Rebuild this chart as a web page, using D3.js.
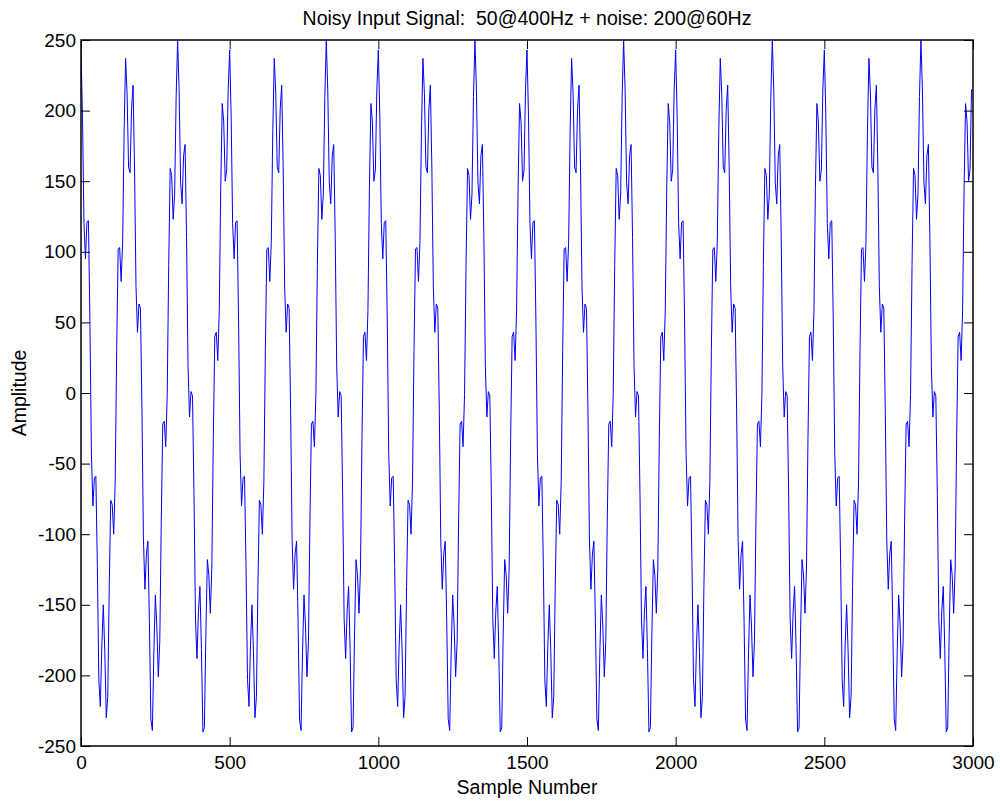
<!DOCTYPE html>
<html>
<head>
<meta charset="utf-8">
<script src="https://cdn.jsdelivr.net/npm/d3@7"></script>
<style>
  html, body { margin: 0; padding: 0; background: #ffffff; overflow: hidden; }
  svg { display: block; }
</style>
</head>
<body>
<script>
// ---- data ----
const chartTitle = "Noisy Input Signal:  50@400Hz + noise: 200@60Hz";
const xAxisLabel = "Sample Number";
const yAxisLabel = "Amplitude";
const xTickValues = [0, 500, 1000, 1500, 2000, 2500, 3000];
const yTickValues = [-250, -200, -150, -100, -50, 0, 50, 100, 150, 200, 250];
const sampleStep = 5; // one value every 5 samples
const amplitude = [
  243,196,120,95,121,122,51,-43,-80,-60,-59,-123,-203,-222,-179,-150,-183,-230,-215,-137,
  -76,-79,-100,-63,30,102,103,79,107,185,237,212,160,156,201,218,160,75,43,63,
  60,-12,-104,-139,-114,-105,-161,-231,-239,-184,-143,-165,-201,-176,-90,-22,-20,-38,-1,91,
  159,154,123,141,210,250,214,149,134,168,176,110,19,-17,1,-2,-72,-160,-188,-155,
  -137,-181,-240,-237,-170,-118,-129,-156,-124,-32,40,43,23,58,145,205,192,150,158,215,
  243,196,120,95,121,122,51,-43,-80,-60,-59,-123,-203,-222,-179,-150,-183,-230,-215,-137,
  -76,-79,-100,-63,30,102,103,79,107,185,237,212,160,156,201,218,160,75,43,63,
  60,-12,-104,-139,-114,-105,-161,-231,-239,-184,-143,-165,-201,-176,-90,-22,-20,-38,-1,91,
  159,154,123,141,210,250,214,149,134,168,176,110,19,-17,1,-2,-72,-160,-188,-155,
  -137,-181,-240,-237,-170,-118,-129,-156,-124,-32,40,43,23,58,145,205,192,150,158,215,
  243,196,120,95,121,122,51,-43,-80,-60,-59,-123,-203,-222,-179,-150,-183,-230,-215,-137,
  -76,-79,-100,-63,30,102,103,79,107,185,237,212,160,156,201,218,160,75,43,63,
  60,-12,-104,-139,-114,-105,-161,-231,-239,-184,-143,-165,-201,-176,-90,-22,-20,-38,-1,91,
  159,154,123,141,210,250,214,149,134,168,176,110,19,-17,1,-2,-72,-160,-188,-155,
  -137,-181,-240,-237,-170,-118,-129,-156,-124,-32,40,43,23,58,145,205,192,150,158,215,
  243,196,120,95,121,122,51,-43,-80,-60,-59,-123,-203,-222,-179,-150,-183,-230,-215,-137,
  -76,-79,-100,-63,30,102,103,79,107,185,237,212,160,156,201,218,160,75,43,63,
  60,-12,-104,-139,-114,-105,-161,-231,-239,-184,-143,-165,-201,-176,-90,-22,-20,-38,-1,91,
  159,154,123,141,210,250,214,149,134,168,176,110,19,-17,1,-2,-72,-160,-188,-155,
  -137,-181,-240,-237,-170,-118,-129,-156,-124,-32,40,43,23,58,145,205,192,150,158,215,
  243,196,120,95,121,122,51,-43,-80,-60,-59,-123,-203,-222,-179,-150,-183,-230,-215,-137,
  -76,-79,-100,-63,30,102,103,79,107,185,237,212,160,156,201,218,160,75,43,63,
  60,-12,-104,-139,-114,-105,-161,-231,-239,-184,-143,-165,-201,-176,-90,-22,-20,-38,-1,91,
  159,154,123,141,210,250,214,149,134,168,176,110,19,-17,1,-2,-72,-160,-188,-155,
  -137,-181,-240,-237,-170,-118,-129,-156,-124,-32,40,43,23,58,145,205,192,150,158,215,
  243,196,120,95,121,122,51,-43,-80,-60,-59,-123,-203,-222,-179,-150,-183,-230,-215,-137,
  -76,-79,-100,-63,30,102,103,79,107,185,237,212,160,156,201,218,160,75,43,63,
  60,-12,-104,-139,-114,-105,-161,-231,-239,-184,-143,-165,-201,-176,-90,-22,-20,-38,-1,91,
  159,154,123,141,210,250,214,149,134,168,176,110,19,-17,1,-2,-72,-160,-188,-155,
  -137,-181,-240,-237,-170,-118,-129,-156,-124,-32,40,43,23,58,145,205,192,150,158,215
];

// ---- layout ----
const W = 1000, H = 801;
const plot = { left: 81, right: 973, top: 40, bottom: 746 };
const fontFamily = "'Liberation Sans', Arial, Helvetica, sans-serif";
const tickFontSize = 19;
const labelFontSize = 19.5;

const svg = d3.select("body").append("svg")
  .attr("width", W).attr("height", H)
  .style("background", "#ffffff");

const x = d3.scaleLinear().domain([0, 3000]).range([plot.left, plot.right]);
const y = d3.scaleLinear().domain([-250, 250]).range([plot.bottom, plot.top]);

svg.append("defs").append("clipPath").attr("id", "plotClip")
  .append("rect")
  .attr("x", plot.left).attr("y", plot.top)
  .attr("width", plot.right - plot.left).attr("height", plot.bottom - plot.top);

// signal line
const line = d3.line()
  .x((d, i) => x(i * sampleStep))
  .y(d => y(d));

svg.append("path")
  .datum(amplitude)
  .attr("clip-path", "url(#plotClip)")
  .attr("fill", "none")
  .attr("stroke", "#0000ff")
  .attr("stroke-width", 1)
  .attr("stroke-linejoin", "miter")
  .attr("d", line);

// axes (inward ticks, MATLAB style)
const plainNumber = d => String(d); // ASCII hyphen for negatives
function styleAxis(g) {
  g.select(".domain").remove();
  g.attr("font-family", fontFamily).attr("font-size", tickFontSize);
  g.selectAll(".tick line").attr("stroke", "#000").attr("stroke-width", 1);
  g.selectAll(".tick text").attr("fill", "#000");
}

svg.append("g")
  .attr("transform", `translate(0,${plot.bottom})`)
  .call(d3.axisBottom(x).tickValues(xTickValues).tickSize(-9).tickPadding(10).tickFormat(plainNumber))
  .call(styleAxis);

svg.append("g")
  .attr("transform", `translate(0,${plot.top})`)
  .call(d3.axisTop(x).tickValues(xTickValues).tickSize(-9).tickFormat(""))
  .call(styleAxis);

svg.append("g")
  .attr("transform", `translate(${plot.left},0)`)
  .call(d3.axisLeft(y).tickValues(yTickValues).tickSize(-9).tickPadding(5).tickFormat(plainNumber))
  .call(styleAxis);

svg.append("g")
  .attr("transform", `translate(${plot.right},0)`)
  .call(d3.axisRight(y).tickValues(yTickValues).tickSize(-9).tickFormat(""))
  .call(styleAxis);

// frame
svg.append("rect")
  .attr("x", plot.left).attr("y", plot.top)
  .attr("width", plot.right - plot.left).attr("height", plot.bottom - plot.top)
  .attr("fill", "none").attr("stroke", "#000").attr("stroke-width", 1.5);

// title and labels
svg.append("text")
  .attr("x", (plot.left + plot.right) / 2).attr("y", 25)
  .attr("text-anchor", "middle")
  .attr("font-family", fontFamily).attr("font-size", labelFontSize)
  .attr("fill", "#000")
  .style("white-space", "pre")
  .text(chartTitle);

svg.append("text")
  .attr("x", (plot.left + plot.right) / 2).attr("y", 794)
  .attr("text-anchor", "middle")
  .attr("font-family", fontFamily).attr("font-size", labelFontSize)
  .attr("fill", "#000")
  .text(xAxisLabel);

svg.append("text")
  .attr("transform", `translate(26,${(plot.top + plot.bottom) / 2}) rotate(-90)`)
  .attr("text-anchor", "middle")
  .attr("font-family", fontFamily).attr("font-size", labelFontSize)
  .attr("fill", "#000")
  .text(yAxisLabel);
</script>
</body>
</html>
